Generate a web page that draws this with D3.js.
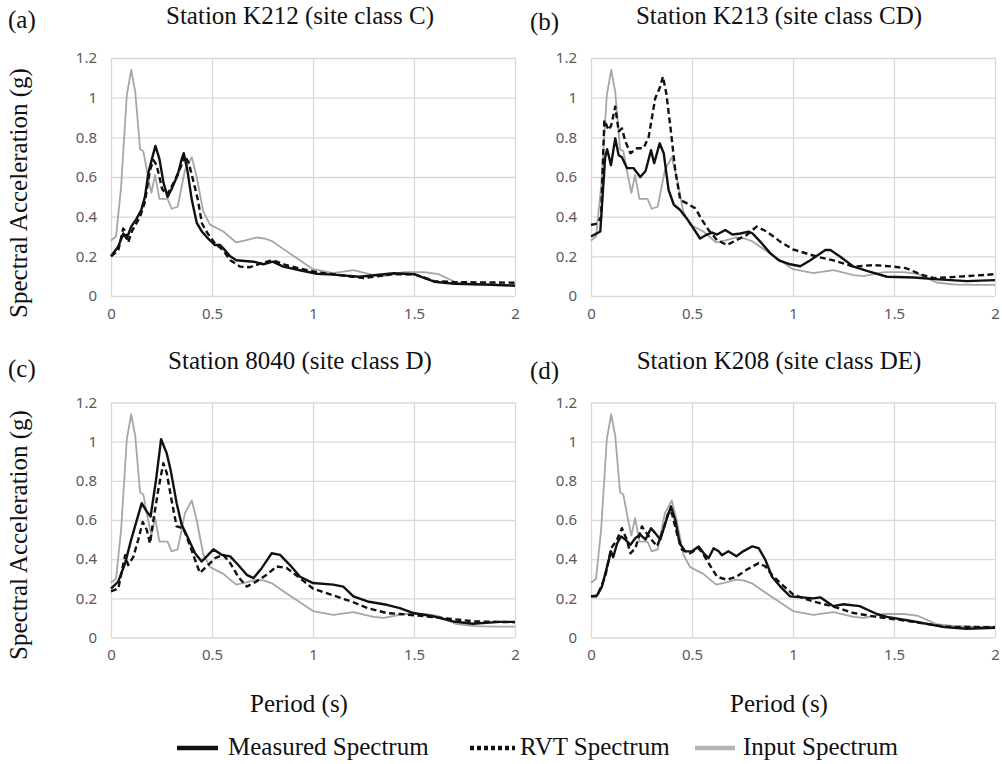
<!DOCTYPE html>
<html>
<head>
<meta charset="utf-8">
<script src="https://cdn.jsdelivr.net/npm/d3@7"></script>
<style>
  html, body { margin: 0; padding: 0; background: #fff; }
  svg { display: block; }
</style>
</head>
<body>
<svg id="chart" width="1002" height="764"></svg>
<script>
// ---------- data ----------
const xTicks = [0, 0.5, 1, 1.5, 2];
const yTicks = [0, 0.2, 0.4, 0.6, 0.8, 1, 1.2];
const panelLabels = ["(a)", "(b)", "(c)", "(d)"];
const panelTitles = [
  "Station K212 (site class C)",
  "Station K213 (site class CD)",
  "Station 8040 (site class D)",
  "Station K208 (site class DE)"
];
const seriesNames = ["Measured Spectrum", "RVT Spectrum", "Input Spectrum"];

// Input spectrum (same input motion in all four panels)
const inputT  = [0, 0.025, 0.05, 0.078, 0.1, 0.12, 0.144, 0.16, 0.18, 0.2, 0.218, 0.24, 0.28, 0.3, 0.33, 0.366, 0.4, 0.424, 0.457, 0.49, 0.556, 0.62, 0.665, 0.72, 0.76, 0.8, 0.87, 0.935, 1.0, 1.1, 1.2, 1.3, 1.35, 1.45, 1.55, 1.62, 1.71, 1.8, 1.9, 2.0];
const inputSA = [0.28, 0.30, 0.55, 1.01, 1.14, 1.03, 0.74, 0.73, 0.62, 0.52, 0.61, 0.49, 0.49, 0.44, 0.45, 0.635, 0.70, 0.60, 0.425, 0.36, 0.325, 0.27, 0.28, 0.295, 0.29, 0.275, 0.225, 0.18, 0.135, 0.115, 0.13, 0.105, 0.10, 0.12, 0.12, 0.11, 0.068, 0.058, 0.056, 0.056];

// (a) K212
const aMeasT  = [0, 0.036, 0.061, 0.078, 0.10, 0.127, 0.15, 0.168, 0.185, 0.205, 0.22, 0.24, 0.26, 0.28, 0.30, 0.33, 0.35, 0.36, 0.378, 0.40, 0.424, 0.45, 0.48, 0.515, 0.54, 0.556, 0.59, 0.62, 0.705, 0.754, 0.80, 0.853, 0.935, 1.02, 1.1, 1.23, 1.40, 1.5, 1.6, 1.7, 1.85, 2.0];
const aMeasSA = [0.20, 0.25, 0.315, 0.29, 0.35, 0.39, 0.435, 0.50, 0.62, 0.70, 0.757, 0.69, 0.57, 0.50, 0.54, 0.61, 0.69, 0.72, 0.635, 0.485, 0.37, 0.325, 0.29, 0.257, 0.257, 0.24, 0.20, 0.18, 0.173, 0.16, 0.173, 0.148, 0.13, 0.112, 0.108, 0.097, 0.115, 0.11, 0.072, 0.062, 0.058, 0.052];
const aRvtT   = [0, 0.036, 0.06, 0.07, 0.085, 0.105, 0.144, 0.168, 0.193, 0.21, 0.226, 0.253, 0.277, 0.31, 0.345, 0.364, 0.385, 0.41, 0.43, 0.45, 0.478, 0.515, 0.556, 0.59, 0.64, 0.688, 0.737, 0.80, 0.87, 0.935, 1.02, 1.1, 1.25, 1.4, 1.5, 1.6, 1.7, 2.0];
const aRvtSA  = [0.20, 0.23, 0.34, 0.33, 0.27, 0.33, 0.40, 0.475, 0.635, 0.685, 0.66, 0.54, 0.51, 0.57, 0.65, 0.71, 0.67, 0.57, 0.485, 0.367, 0.316, 0.265, 0.23, 0.18, 0.148, 0.145, 0.163, 0.18, 0.155, 0.138, 0.12, 0.11, 0.09, 0.11, 0.11, 0.075, 0.07, 0.067];

// (b) K213
const bMeasT  = [0, 0.046, 0.07, 0.08, 0.099, 0.12, 0.137, 0.153, 0.178, 0.21, 0.244, 0.27, 0.297, 0.313, 0.34, 0.36, 0.384, 0.41, 0.44, 0.475, 0.508, 0.54, 0.574, 0.60, 0.624, 0.665, 0.70, 0.74, 0.78, 0.80, 0.846, 0.888, 0.93, 0.986, 1.036, 1.086, 1.16, 1.185, 1.234, 1.30, 1.37, 1.465, 1.6, 1.7, 1.86, 2.0];
const bMeasSA = [0.30, 0.325, 0.70, 0.74, 0.66, 0.795, 0.71, 0.70, 0.645, 0.645, 0.60, 0.63, 0.735, 0.67, 0.77, 0.72, 0.535, 0.46, 0.435, 0.39, 0.34, 0.29, 0.31, 0.32, 0.31, 0.333, 0.31, 0.315, 0.325, 0.315, 0.265, 0.215, 0.18, 0.16, 0.15, 0.18, 0.232, 0.232, 0.198, 0.148, 0.125, 0.097, 0.093, 0.085, 0.075, 0.08];
const bRvtT   = [0, 0.03, 0.05, 0.066, 0.087, 0.10, 0.12, 0.137, 0.153, 0.17, 0.195, 0.228, 0.26, 0.285, 0.318, 0.343, 0.356, 0.373, 0.393, 0.417, 0.442, 0.475, 0.516, 0.55, 0.582, 0.624, 0.673, 0.72, 0.77, 0.82, 0.87, 0.937, 1.0, 1.12, 1.2, 1.3, 1.4, 1.5, 1.56, 1.64, 1.7, 1.86, 2.0];
const bRvtSA  = [0.358, 0.365, 0.40, 0.887, 0.837, 0.86, 0.955, 0.83, 0.845, 0.78, 0.72, 0.745, 0.745, 0.80, 0.997, 1.056, 1.106, 1.02, 0.854, 0.635, 0.484, 0.467, 0.442, 0.383, 0.333, 0.282, 0.257, 0.282, 0.307, 0.35, 0.325, 0.274, 0.235, 0.198, 0.18, 0.148, 0.156, 0.148, 0.14, 0.106, 0.09, 0.10, 0.11];

// (c) 8040
const cMeasT  = [0, 0.036, 0.07, 0.10, 0.152, 0.177, 0.196, 0.223, 0.248, 0.276, 0.295, 0.325, 0.35, 0.378, 0.416, 0.449, 0.474, 0.507, 0.548, 0.59, 0.63, 0.672, 0.705, 0.746, 0.795, 0.837, 0.886, 0.936, 1.0, 1.1, 1.15, 1.2, 1.27, 1.365, 1.43, 1.497, 1.6, 1.694, 1.79, 1.926, 2.0];
const cMeasSA = [0.25, 0.286, 0.38, 0.50, 0.686, 0.643, 0.618, 0.805, 1.013, 0.94, 0.856, 0.686, 0.575, 0.516, 0.43, 0.388, 0.414, 0.45, 0.422, 0.414, 0.37, 0.32, 0.303, 0.354, 0.43, 0.422, 0.37, 0.31, 0.278, 0.27, 0.26, 0.21, 0.184, 0.167, 0.15, 0.125, 0.107, 0.082, 0.07, 0.08, 0.08];
const cRvtT   = [0, 0.036, 0.07, 0.085, 0.11, 0.135, 0.157, 0.177, 0.193, 0.21, 0.234, 0.259, 0.276, 0.30, 0.325, 0.358, 0.38, 0.416, 0.44, 0.474, 0.515, 0.556, 0.59, 0.63, 0.672, 0.72, 0.77, 0.82, 0.87, 0.935, 1.0, 1.1, 1.2, 1.27, 1.365, 1.43, 1.6, 1.8, 2.0];
const cRvtSA  = [0.235, 0.25, 0.42, 0.37, 0.41, 0.50, 0.59, 0.55, 0.48, 0.60, 0.754, 0.89, 0.84, 0.70, 0.567, 0.558, 0.50, 0.397, 0.33, 0.363, 0.405, 0.422, 0.38, 0.31, 0.26, 0.286, 0.32, 0.363, 0.355, 0.303, 0.25, 0.215, 0.18, 0.15, 0.125, 0.12, 0.104, 0.082, 0.078];

// (d) K208
const dMeasT  = [0, 0.03, 0.054, 0.08, 0.099, 0.11, 0.129, 0.149, 0.17, 0.195, 0.22, 0.244, 0.27, 0.297, 0.318, 0.343, 0.373, 0.396, 0.417, 0.439, 0.467, 0.5, 0.533, 0.558, 0.582, 0.607, 0.632, 0.648, 0.68, 0.72, 0.753, 0.797, 0.83, 0.863, 0.896, 0.937, 0.986, 1.1, 1.135, 1.2, 1.25, 1.33, 1.415, 1.465, 1.6, 1.75, 1.86, 2.0];
const dMeasSA = [0.21, 0.215, 0.26, 0.363, 0.44, 0.41, 0.48, 0.516, 0.50, 0.473, 0.508, 0.525, 0.50, 0.558, 0.533, 0.50, 0.60, 0.67, 0.60, 0.48, 0.44, 0.44, 0.465, 0.43, 0.405, 0.456, 0.44, 0.42, 0.44, 0.415, 0.44, 0.465, 0.456, 0.397, 0.31, 0.26, 0.21, 0.20, 0.205, 0.16, 0.17, 0.16, 0.12, 0.105, 0.082, 0.053, 0.045, 0.05];
const dRvtT   = [0, 0.03, 0.07, 0.10, 0.129, 0.153, 0.177, 0.195, 0.22, 0.252, 0.27, 0.293, 0.327, 0.36, 0.384, 0.40, 0.425, 0.45, 0.49, 0.533, 0.558, 0.582, 0.624, 0.673, 0.72, 0.77, 0.83, 0.863, 0.896, 0.937, 1.003, 1.1, 1.2, 1.3, 1.415, 1.53, 1.66, 1.75, 2.0];
const dRvtSA  = [0.21, 0.21, 0.31, 0.456, 0.50, 0.558, 0.50, 0.43, 0.456, 0.567, 0.54, 0.508, 0.465, 0.558, 0.643, 0.635, 0.533, 0.448, 0.43, 0.456, 0.422, 0.38, 0.31, 0.295, 0.31, 0.346, 0.38, 0.363, 0.32, 0.278, 0.218, 0.184, 0.158, 0.125, 0.105, 0.09, 0.07, 0.055, 0.052];

// ---------- layout ----------
const zip = (t, v) => t.map((d, i) => [d, v[i]]);
const panels = [
  { meas: zip(aMeasT, aMeasSA), rvt: zip(aRvtT, aRvtSA), left: 111, right: 515, top: 58, bottom: 296, titleX: 300, titleY: 24, labX: 8, labY: 28, ylab: true, ylabY: 193 },
  { meas: zip(bMeasT, bMeasSA), rvt: zip(bRvtT, bRvtSA), left: 591, right: 995, top: 58, bottom: 296, titleX: 779, titleY: 24, labX: 530, labY: 30, ylab: false },
  { meas: zip(cMeasT, cMeasSA), rvt: zip(cRvtT, cRvtSA), left: 111, right: 515, top: 402.5, bottom: 637.5, titleX: 300, titleY: 369, labX: 8, labY: 377, ylab: true, ylabY: 535, xlab: true, xlabX: 299 },
  { meas: zip(dMeasT, dMeasSA), rvt: zip(dRvtT, dRvtSA), left: 591, right: 995, top: 402.5, bottom: 637.5, titleX: 779, titleY: 369, labX: 530, labY: 379, ylab: false, xlab: true, xlabX: 779 }
];
const input = zip(inputT, inputSA);

const serif = "'Liberation Serif', 'Times New Roman', serif";
const sans = "'Noto Sans', 'Open Sans', sans-serif";
const gridColor = "#d9d9d9";
const tickColor = "#595959";
const inputColor = "#a6a6a6";

const svg = d3.select("#chart");

panels.forEach((p, i) => {
  const x = d3.scaleLinear().domain([0, 2]).range([p.left, p.right]);
  const y = d3.scaleLinear().domain([0, 1.2]).range([p.bottom, p.top]);
  const g = svg.append("g");

  // y axis with gridlines
  const yAx = g.append("g")
    .attr("transform", `translate(${p.left},0)`)
    .call(d3.axisLeft(y).tickValues(yTicks).tickFormat(d3.format("~g"))
      .tickSize(-(p.right - p.left)).tickPadding(14));
  yAx.select(".domain").remove();
  yAx.selectAll("line").attr("stroke", gridColor).attr("stroke-width", 1.3);
  yAx.selectAll("text").attr("fill", tickColor).attr("font-family", sans).attr("font-size", 15);

  // x axis with gridlines
  const xAx = g.append("g")
    .attr("transform", `translate(0,${p.bottom})`)
    .call(d3.axisBottom(x).tickValues(xTicks).tickFormat(d3.format("~g"))
      .tickSize(-(p.bottom - p.top)).tickPadding(12));
  xAx.select(".domain").remove();
  xAx.selectAll("line").attr("stroke", gridColor).attr("stroke-width", 1.3);
  xAx.selectAll("text").attr("fill", tickColor).attr("font-family", sans).attr("font-size", 15);

  const line = d3.line().x(d => x(d[0])).y(d => y(d[1]));

  g.append("path").datum(input).attr("d", line)
    .attr("fill", "none").attr("stroke", inputColor).attr("stroke-width", 1.8)
    .attr("stroke-linejoin", "round");
  g.append("path").datum(p.rvt).attr("d", line)
    .attr("fill", "none").attr("stroke", "#111").attr("stroke-width", 2.4)
    .attr("stroke-dasharray", "6,3.5").attr("stroke-linejoin", "round");
  g.append("path").datum(p.meas).attr("d", line)
    .attr("fill", "none").attr("stroke", "#111").attr("stroke-width", 2.4)
    .attr("stroke-linejoin", "round");

  // title & panel letter
  svg.append("text").attr("x", p.titleX).attr("y", p.titleY)
    .attr("text-anchor", "middle").attr("font-family", serif).attr("font-size", 25)
    .attr("fill", "#111").text(panelTitles[i]);
  svg.append("text").attr("x", p.labX).attr("y", p.labY)
    .attr("font-family", serif).attr("font-size", 25).attr("fill", "#111")
    .text(panelLabels[i]);

  if (p.ylab) {
    svg.append("text")
      .attr("transform", `translate(27,${p.ylabY}) rotate(-90)`)
      .attr("text-anchor", "middle").attr("font-family", serif).attr("font-size", 25)
      .attr("fill", "#111").text("Spectral Acceleration (g)");
  }
  if (p.xlab) {
    svg.append("text").attr("x", p.xlabX).attr("y", 712)
      .attr("text-anchor", "middle").attr("font-family", serif).attr("font-size", 25)
      .attr("fill", "#111").text("Period (s)");
  }
});

// ---------- legend ----------
const legendItems = [
  { name: seriesNames[0], x1: 177, x2: 218, tx: 228, stroke: "#111", dash: null, w: 4.5 },
  { name: seriesNames[1], x1: 470, x2: 515, tx: 520, stroke: "#111", dash: "4,3", w: 4.5 },
  { name: seriesNames[2], x1: 695, x2: 735, tx: 743, stroke: "#b3b3b3", dash: null, w: 4.5 }
];
const lg = svg.append("g");
legendItems.forEach(it => {
  lg.append("line").attr("x1", it.x1).attr("x2", it.x2).attr("y1", 748).attr("y2", 748)
    .attr("stroke", it.stroke).attr("stroke-width", it.w)
    .attr("stroke-dasharray", it.dash);
  lg.append("text").attr("x", it.tx).attr("y", 755)
    .attr("font-family", serif).attr("font-size", 25).attr("fill", "#111").text(it.name);
});
</script>
</body>
</html>
